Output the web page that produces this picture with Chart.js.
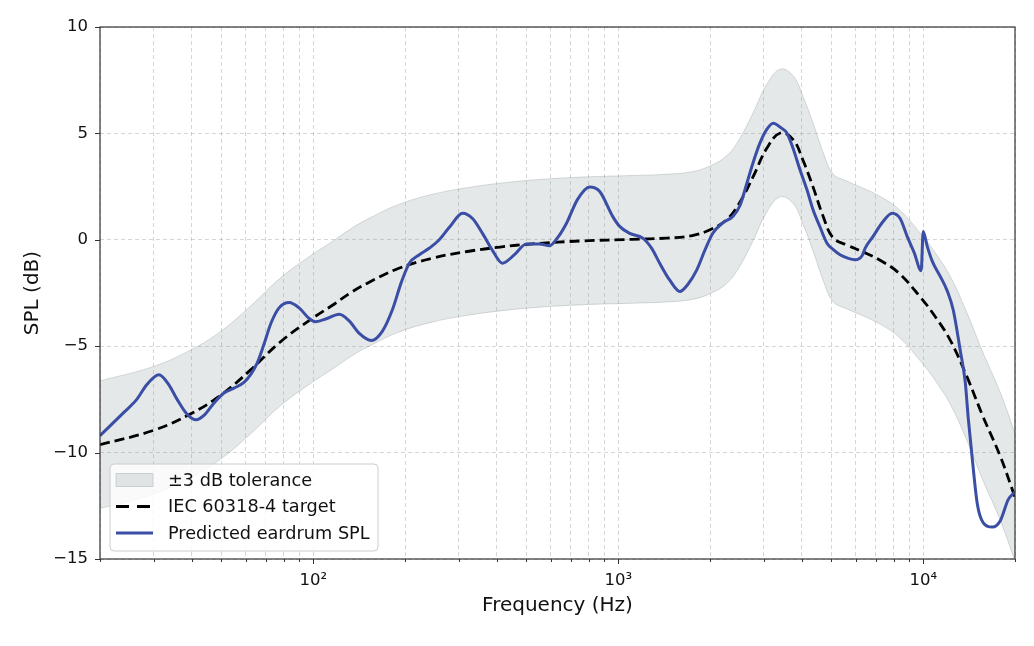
<!DOCTYPE html>
<html>
<head>
<meta charset="utf-8">
<script src="https://cdn.jsdelivr.net/npm/chart.js@4.4.0/dist/chart.umd.min.js"></script>
<style>
  html, body { margin: 0; padding: 0; background: #fff; }
</style>
</head>
<body>
<canvas id="spl-chart" width="1034" height="646"></canvas>
<script>
// IEC 60318-4 target (Hz, dB)
const targetFreq = [20, 30, 40, 50, 62.5, 78, 98, 115, 134, 150, 190, 245, 320, 410, 525, 765, 1110, 1440, 1750, 2000, 2270, 2500, 2770, 3070, 3400, 3750, 4030, 4350, 4700, 5060, 5630, 6300, 7200, 8300, 9800, 11000, 12300, 13900, 15700, 17900, 20000];
const targetSpl = [-9.63, -8.95, -8.15, -7.28, -6.1, -4.8, -3.75, -3.1, -2.45, -2.05, -1.35, -0.87, -0.55, -0.34, -0.19, -0.05, 0.02, 0.08, 0.2, 0.47, 0.95, 1.74, 2.97, 4.3, 5.02, 4.7, 3.76, 2.5, 1.1, 0.1, -0.25, -0.55, -0.95, -1.55, -2.7, -3.65, -4.75, -6.42, -8.3, -10.18, -12.1];
const tolerance = 3;

// predicted eardrum SPL (Hz, dB)
const predFreq = [20, 24, 26.4, 28.5, 31.2, 33.6, 35.8, 38.6, 41.3, 44.2, 47.3, 51, 55, 59.3, 62.6, 65.5, 69, 72.8, 77.3, 83.4, 89.9, 97, 102, 111, 121.7, 131, 141.6, 155, 168.5, 181.7, 194.5, 206.7, 223, 240, 259, 280, 309, 333, 359, 387, 417, 457, 500, 552, 596, 633, 677, 736, 806, 870, 959, 1011, 1091, 1204, 1288, 1368, 1476, 1594, 1691, 1810, 1923, 2043, 2204, 2377, 2506, 2642, 2765, 2915, 3074, 3224, 3391, 3576, 3743, 3945, 4159, 4354, 4589, 4838, 5063, 5338, 5630, 5980, 6304, 6449, 6853, 7334, 7911, 8404, 8861, 9341, 9849, 10000, 10307, 10705, 11373, 11991, 12547, 13229, 13740, 14057, 14488, 15043, 15740, 16853, 17900, 19016, 20000];
const predSpl = [-9.2, -8.1, -7.5, -6.8, -6.34, -6.8, -7.5, -8.2, -8.46, -8.2, -7.67, -7.2, -6.97, -6.7, -6.3, -5.8, -4.9, -3.9, -3.2, -2.95, -3.2, -3.7, -3.85, -3.7, -3.5, -3.8, -4.4, -4.73, -4.3, -3.3, -2.0, -1.1, -0.7, -0.4, 0, 0.6, 1.25, 1.0, 0.3, -0.5, -1.1, -0.7, -0.2, -0.2, -0.28, 0.1, 0.78, 1.9, 2.48, 2.27, 1.1, 0.63, 0.3, 0.08, -0.4, -1.1, -1.9, -2.43, -2.1, -1.41, -0.5, 0.31, 0.8, 1.1, 1.6, 2.66, 3.6, 4.54, 5.2, 5.48, 5.3, 5.01, 4.3, 3.29, 2.35, 1.41, 0.6, -0.16, -0.45, -0.7, -0.85, -0.94, -0.75, -0.4, 0.16, 0.8, 1.25, 1.0, 0.16, -0.6, -1.45, 0.39, -0.3, -1.0, -1.72, -2.4, -3.3, -5.2, -6.7, -8.4, -10.3, -12.4, -13.3, -13.5, -13.2, -12.2, -11.85];

const xTicks = [20, 30, 40, 50, 60, 70, 80, 90, 100, 200, 300, 400, 500, 600, 700, 800, 900, 1000, 2000, 3000, 4000, 5000, 6000, 7000, 8000, 9000, 10000, 20000];
const xTickLabels = {100: '10\u00b2', 1000: '10\u00b3', 10000: '10\u2074'};
const yTicks = [-15, -10, -5, 0, 5, 10];

const toPoints = (xs, ys) => xs.map((x, i) => ({x: x, y: ys[i]}));

const bandColor = 'rgba(127, 140, 141, 0.2)';
const bandEdge = 'rgba(127, 140, 141, 0.3)';
const blue = '#3b4ea6';
const FONT = "'DejaVu Sans', sans-serif";

const legendItems = [
    {label: '\u00b13 dB tolerance', type: 'band'},
    {label: 'IEC 60318-4 target', type: 'dash'},
    {label: 'Predicted eardrum SPL', type: 'line'}
];

// legend in the lower left corner, frame and tick marks
const plotExtras = {
    id: 'plotExtras',
    afterDraw(chart) {
        const {ctx, chartArea, scales} = chart;
        ctx.save();
        ctx.strokeStyle = '#333';
        ctx.lineWidth = 1;
        ctx.beginPath();
        xTicks.forEach(v => {
            const px = Math.round(scales.x.getPixelForValue(v)) + 0.5;
            const len = xTickLabels[v] ? 5 : 3;
            ctx.moveTo(px, chartArea.bottom);
            ctx.lineTo(px, chartArea.bottom + len);
        });
        yTicks.forEach(v => {
            const py = Math.round(scales.y.getPixelForValue(v)) + 0.5;
            ctx.moveTo(chartArea.left, py);
            ctx.lineTo(chartArea.left - 5, py);
        });
        ctx.stroke();
        ctx.lineWidth = 1.2;
        ctx.strokeRect(chartArea.left, chartArea.top, chartArea.right - chartArea.left, chartArea.bottom - chartArea.top);

        const bx = chartArea.left + 10, by = chartArea.bottom - 95, bw = 268, bh = 87;
        ctx.beginPath();
        ctx.roundRect(bx, by, bw, bh, 4);
        ctx.fillStyle = 'rgba(255,255,255,0.8)';
        ctx.fill();
        ctx.strokeStyle = '#cccccc';
        ctx.lineWidth = 1;
        ctx.stroke();

        ctx.font = '17.7px ' + FONT;
        ctx.textBaseline = 'middle';
        legendItems.forEach((item, i) => {
            const cy = by + 16 + i * 26.5;
            if (item.type === 'band') {
                ctx.fillStyle = bandColor;
                ctx.fillRect(bx + 6, cy - 6.5, 37, 13);
                ctx.strokeStyle = bandEdge;
                ctx.strokeRect(bx + 6, cy - 6.5, 37, 13);
            } else {
                ctx.beginPath();
                ctx.lineWidth = 3;
                ctx.strokeStyle = item.type === 'dash' ? '#000' : blue;
                ctx.setLineDash(item.type === 'dash' ? [13, 8] : []);
                ctx.moveTo(bx + 6, cy);
                ctx.lineTo(bx + 43, cy);
                ctx.stroke();
                ctx.setLineDash([]);
            }
            ctx.fillStyle = '#111';
            ctx.fillText(item.label, bx + 58, cy + 1);
        });
        ctx.restore();
    }
};

const gridOpts = {
    color: 'rgba(0,0,0,0.16)',
    lineWidth: 1,
    drawTicks: true,
    tickLength: 5,
    tickColor: 'rgba(0,0,0,0)'
};

const ctx = document.getElementById('spl-chart').getContext('2d');
const chart = new Chart(ctx, {
    type: 'line',
    data: {
        datasets: [
            {
                label: 'Predicted eardrum SPL',
                data: toPoints(predFreq, predSpl),
                borderColor: blue,
                borderWidth: 3,
                pointRadius: 0,
                cubicInterpolationMode: 'monotone',
                order: 0
            },
            {
                label: 'IEC 60318-4 target',
                data: toPoints(targetFreq, targetSpl),
                borderColor: '#000',
                borderWidth: 2.8,
                borderDash: [10, 5],
                pointRadius: 0,
                tension: 0.4,
                order: 1
            },
            {
                label: 'upper',
                data: toPoints(targetFreq, targetSpl.map(v => v + tolerance)),
                borderColor: bandEdge,
                borderWidth: 1,
                backgroundColor: bandColor,
                fill: '+1',
                pointRadius: 0,
                tension: 0.4,
                order: 2
            },
            {
                label: 'lower',
                data: toPoints(targetFreq, targetSpl.map(v => v - tolerance)),
                borderColor: bandEdge,
                borderWidth: 1,
                pointRadius: 0,
                fill: false,
                tension: 0.4,
                order: 3
            }
        ]
    },
    options: {
        responsive: false,
        animation: false,
        devicePixelRatio: 1,
        layout: { padding: { top: 27, right: 19, left: 0, bottom: 0 } },
        plugins: {
            legend: { display: false },
            tooltip: { enabled: false }
        },
        scales: {
            x: {
                type: 'logarithmic',
                min: 20,
                max: 20000,
                afterBuildTicks: (scale) => { scale.ticks = xTicks.map(v => ({value: v})); },
                afterFit: (scale) => { scale.height = 87; },
                ticks: {
                    autoSkip: false,
                    maxRotation: 0,
                    padding: 7,
                    color: '#111',
                    font: { family: FONT, size: 16.5 },
                    callback: (v) => xTickLabels[v] || ''
                },
                grid: gridOpts,
                border: { display: false, dash: [4, 3] },
                title: {
                    display: true,
                    text: 'Frequency (Hz)',
                    color: '#111',
                    font: { family: FONT, size: 20 },
                    padding: { top: 0, bottom: 28 }
                }
            },
            y: {
                min: -15,
                max: 10,
                afterBuildTicks: (scale) => { scale.ticks = yTicks.map(v => ({value: v})); },
                afterFit: (scale) => { scale.width = 100; },
                ticks: {
                    padding: 7,
                    color: '#111',
                    font: { family: FONT, size: 16.5 },
                    callback: (v) => v < 0 ? '\u2212' + Math.abs(v) : String(v)
                },
                grid: gridOpts,
                border: { display: false, dash: [4, 3] },
                title: {
                    display: true,
                    text: 'SPL (dB)',
                    color: '#111',
                    font: { family: FONT, size: 20 },
                    padding: { top: 21, bottom: 0 }
                }
            }
        }
    },
    plugins: [plotExtras]
});
</script>
</body>
</html>
